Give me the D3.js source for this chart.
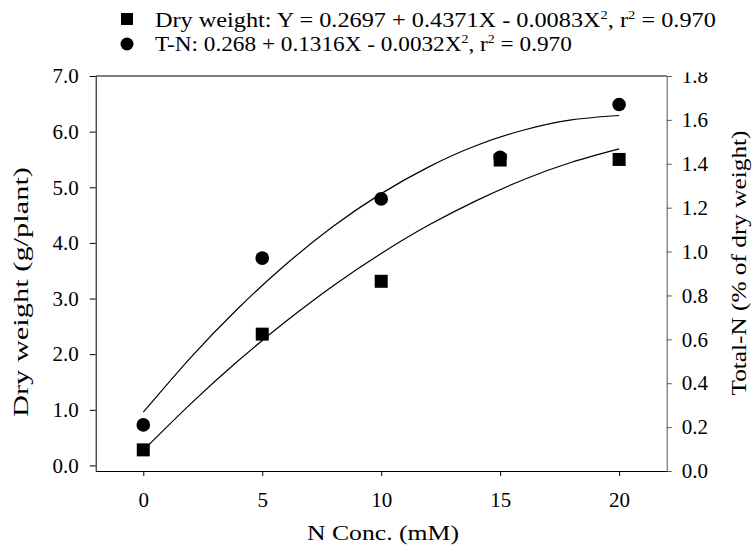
<!DOCTYPE html>
<html>
<head>
<meta charset="utf-8">
<script src="https://cdn.jsdelivr.net/npm/d3@7"></script>
<style>
  body { margin: 0; background: #fff; }
  text { font-family: "Liberation Serif", "Times New Roman", serif; }
</style>
</head>
<body>
<svg width="753" height="553"></svg>
<script>
var svg = d3.select('svg');

// measured points
var nConc = [0, 5, 10, 15, 20];
var dryWeight = [0.28, 2.36, 3.31, 5.49, 5.50];
var totalN = [0.21, 0.97, 1.24, 1.43, 1.67];

// fitted curves
var curveX = [0, 2, 4, 6, 8, 10, 12, 14, 16, 18, 20];
var dryFit = [0.27, 1.11, 1.885, 2.59, 3.235, 3.81, 4.32, 4.76, 5.14, 5.45, 5.69];
var tnFit = [0.268, 0.518, 0.743, 0.942, 1.116, 1.264, 1.386, 1.483, 1.554, 1.600, 1.62];

var xTicks = [0, 5, 10, 15, 20];
var leftTicks = [0, 1, 2, 3, 4, 5, 6, 7];
var rightTicks = [0, 0.2, 0.4, 0.6, 0.8, 1.0, 1.2, 1.4, 1.6, 1.8];

var pLeft = 95.7, pRight = 666.7, pTop = 76, pBottom = 471;

var x = d3.scaleLinear().domain([-2, 22]).range([pLeft, pRight]);
var yL = d3.scaleLinear().domain([-0.1, 7]).range([pBottom, pTop]);
var yR = d3.scaleLinear().domain([0, 1.8]).range([pBottom, pTop]);

// frame top line
svg.append('line')
    .attr('x1', pLeft).attr('x2', pRight)
    .attr('y1', pTop).attr('y2', pTop)
    .attr('stroke', '#000').attr('stroke-width', 1);

var xAxis = svg.append('g')
    .attr('transform', 'translate(0,' + pBottom + ')')
    .call(d3.axisBottom(x).tickValues(xTicks).tickSize(5).tickSizeOuter(0).tickPadding(16));

var lAxis = svg.append('g')
    .attr('transform', 'translate(' + pLeft + ',0)')
    .call(d3.axisLeft(yL).tickValues(leftTicks).tickSize(6).tickSizeOuter(0).tickPadding(11)
        .tickFormat(d3.format('.1f')));

var rAxis = svg.append('g')
    .attr('transform', 'translate(' + pRight + ',0)')
    .call(d3.axisRight(yR).tickValues(rightTicks).tickSize(5).tickSizeOuter(0).tickPadding(10)
        .tickFormat(d3.format('.1f')));

svg.selectAll('.tick text')
    .attr('font-size', 21)
    .attr('font-family', '"Liberation Serif", serif')
    .attr('fill', '#000');
svg.selectAll('.domain').attr('stroke', '#000');
svg.selectAll('.tick line').attr('stroke', '#000');
rAxis.select('.domain').attr('stroke', '#555');
rAxis.selectAll('.tick line').attr('stroke', '#555');

// top label of right axis is cut off in the source (clip in the tick's own coordinates)
svg.append('defs').append('clipPath').attr('id', 'cut')
    .append('rect').attr('x', -10).attr('y', -4).attr('width', 80).attr('height', 30);
rAxis.selectAll('.tick text').filter(function(d){ return d === 1.8; })
    .attr('clip-path', 'url(#cut)');

// curves
var lineDry = d3.line()
    .x(function(d, i){ return x(curveX[i]); })
    .y(function(d){ return yL(d); })
    .curve(d3.curveNatural);
var lineTN = d3.line()
    .x(function(d, i){ return x(curveX[i]); })
    .y(function(d){ return yR(d); })
    .curve(d3.curveNatural);

svg.append('path').datum(dryFit)
    .attr('d', lineDry).attr('fill', 'none').attr('stroke', '#000').attr('stroke-width', 1.2);
svg.append('path').datum(tnFit)
    .attr('d', lineTN).attr('fill', 'none').attr('stroke', '#000').attr('stroke-width', 1.2);

// markers
svg.selectAll('rect.dw')
    .data(dryWeight)
    .enter()
    .append('rect')
    .attr('class', 'dw')
    .attr('x', function(d, i){ return x(nConc[i]) - 6.5; })
    .attr('y', function(d){ return yL(d) - 6.5; })
    .attr('width', 13).attr('height', 13)
    .attr('fill', '#000');

svg.selectAll('circle.tn')
    .data(totalN)
    .enter()
    .append('circle')
    .attr('class', 'tn')
    .attr('cx', function(d, i){ return x(nConc[i]); })
    .attr('cy', function(d){ return yR(d); })
    .attr('r', 6.8)
    .attr('fill', '#000');

// axis titles (the source font runs wide)
svg.append('text')
    .attr('x', 383).attr('y', 540)
    .attr('text-anchor', 'middle').attr('font-size', 21)
    .attr('textLength', 152).attr('lengthAdjust', 'spacingAndGlyphs')
    .text('N Conc. (mM)');

svg.append('text')
    .attr('transform', 'translate(28,292) rotate(-90)')
    .attr('text-anchor', 'middle').attr('font-size', 21)
    .attr('textLength', 250).attr('lengthAdjust', 'spacingAndGlyphs')
    .text('Dry weight (g/plant)');

svg.append('text')
    .attr('transform', 'translate(746,263) rotate(-90)')
    .attr('text-anchor', 'middle').attr('font-size', 21)
    .attr('textLength', 265).attr('lengthAdjust', 'spacingAndGlyphs')
    .text('Total-N (% of dry weight)');

// legend
svg.append('rect').attr('x', 121).attr('y', 13).attr('width', 12).attr('height', 12).attr('fill', '#000');
svg.append('circle').attr('cx', 127).attr('cy', 44).attr('r', 6.5).attr('fill', '#000');

function legendText(yPos, width, parts) {
    var g = svg.append('g');
    var t = g.append('text').attr('x', 0).attr('y', 0).attr('font-size', 20);
    var raised = false;
    parts.forEach(function(p){
        var s = t.append('tspan').text(p.t);
        if (p.sup) {
            s.attr('dy', -8).attr('font-size', 12);
            raised = true;
        } else if (raised) {
            s.attr('dy', 8);
            raised = false;
        }
    });
    var w = t.node().getBBox().width;
    g.attr('transform', 'translate(155,' + yPos + ') scale(' + (width / w) + ',1)');
}
legendText(27, 561, [
    {t: 'Dry weight: Y = 0.2697 + 0.4371X - 0.0083X'}, {t: '2', sup: true},
    {t: ', r'}, {t: '2', sup: true}, {t: ' = 0.970'}
]);
legendText(51, 417, [
    {t: 'T-N: 0.268 + 0.1316X - 0.0032X'}, {t: '2', sup: true},
    {t: ', r'}, {t: '2', sup: true}, {t: ' = 0.970'}
]);
</script>
</body>
</html>
